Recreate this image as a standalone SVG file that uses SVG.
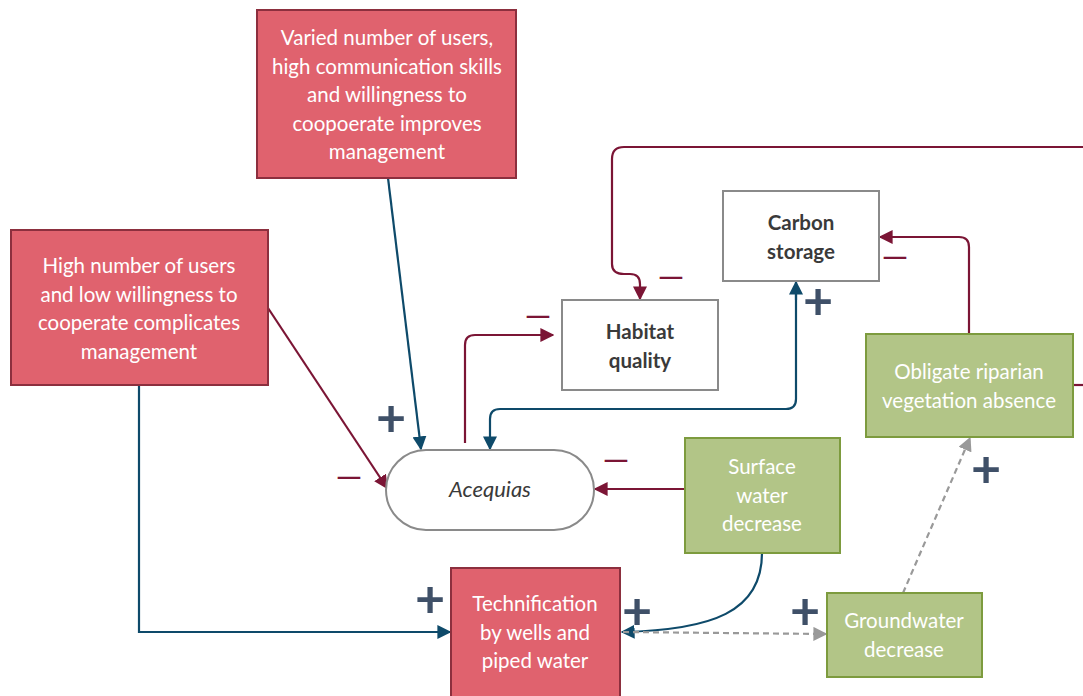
<svg xmlns="http://www.w3.org/2000/svg" width="1083" height="696" viewBox="0 0 1083 696">
<defs>
<style>
.red{fill:#e0626e;stroke:#8c2f3e;stroke-width:2}
.green{fill:#b2c587;stroke:#7d9b3e;stroke-width:2}
.white{fill:#fff;stroke:#8a8a8a;stroke-width:2}
.lt{font-family:Lato,"Liberation Sans",sans-serif;font-size:20.5px;fill:#fff;text-anchor:middle}
.dt{font-family:Lato,"Liberation Sans",sans-serif;font-size:20.5px;fill:#3a3a3a;text-anchor:middle;font-weight:bold}
.navy{fill:none;stroke:#0e4a6a;stroke-width:2.2}
.dred{fill:none;stroke:#7b1535;stroke-width:2.2}
.gray{fill:none;stroke:#999;stroke-width:2.2;stroke-dasharray:6,4}
.plus{font-family:Lato,"Liberation Sans",sans-serif;font-size:52px;fill:#3f5068;text-anchor:middle;font-weight:bold}
.minus{font-family:Lato,"Liberation Sans",sans-serif;font-size:34px;fill:#7b1535;text-anchor:middle}
</style>
<marker id="aN" viewBox="0 0 10 10" refX="9" refY="5" markerWidth="14" markerHeight="14" markerUnits="userSpaceOnUse" orient="auto"><path d="M0,0L10,5L0,10z" fill="#0e4a6a"/></marker>
<marker id="aR" viewBox="0 0 10 10" refX="9" refY="5" markerWidth="14" markerHeight="14" markerUnits="userSpaceOnUse" orient="auto"><path d="M0,0L10,5L0,10z" fill="#7b1535"/></marker>
<marker id="aG" viewBox="0 0 10 10" refX="9" refY="5" markerWidth="14" markerHeight="14" markerUnits="userSpaceOnUse" orient="auto"><path d="M0,0L10,5L0,10z" fill="#999"/></marker>
</defs>
<rect width="1083" height="696" fill="#fff"/>

<g id="connectors">
<path class="navy" d="M388,178 L421,449" marker-end="url(#aN)"/>
<path class="dred" d="M268,308 L387,488" marker-end="url(#aR)"/>
<path class="navy" d="M139,386 L139,632 L450,632" marker-end="url(#aN)"/>
<path class="dred" d="M465,443 L465,345 Q465,335 475,335 L553,335" marker-end="url(#aR)"/>
<path class="dred" d="M1083,147 L624,147 Q612,147 612,159 L612,264 Q612,274 624,274 L630,274 Q640,274 640,284 L640,299" marker-end="url(#aR)"/>
<path class="dred" d="M969,334 L969,247 Q969,237 959,237 L880,237" marker-end="url(#aR)"/>
<path class="dred" d="M1073,385 L1083,385"/>
<path class="navy" d="M796,290 L796,399 Q796,409 786,409 L500,409 Q490,409 490,419 L490,449" marker-end="url(#aN)"/>
<path class="navy" d="M796,300 L796,282" marker-end="url(#aN)"/>
<path class="dred" d="M685,489 L595,489" marker-end="url(#aR)"/>
<path class="navy" d="M762,553 C762,612 712,630 622,632" marker-end="url(#aN)"/>
<path class="gray" d="M623,632 L826,634" marker-end="url(#aG)"/>
<path class="gray" d="M903,593 L970,438" marker-end="url(#aG)"/>
</g>

<g id="labels">
<text class="plus" x="391" y="436">+</text>
<text class="minus" x="349" y="488">—</text>
<text class="minus" x="538" y="327">—</text>
<text class="minus" x="671" y="288">—</text>
<text class="plus" x="818" y="319">+</text>
<text class="minus" x="895" y="268">—</text>
<text class="minus" x="616" y="471">—</text>
<text class="plus" x="986" y="487">+</text>
<text class="plus" x="430" y="617">+</text>
<text class="plus" x="637" y="629">+</text>
<text class="plus" x="805" y="629">+</text>
</g>

<g id="n-varied">
<rect class="red" x="257" y="10" width="259" height="168"/>
<text class="lt"><tspan x="387" y="45">Varied number of users,</tspan><tspan x="387" y="73.5">high communication skills</tspan><tspan x="387" y="102">and willingness to</tspan><tspan x="387" y="130.5">coopoerate improves</tspan><tspan x="387" y="159">management</tspan></text>
</g>

<g id="n-high">
<rect class="red" x="11" y="230" width="257" height="155"/>
<text class="lt"><tspan x="139" y="273">High number of users</tspan><tspan x="139" y="301.5">and low willingness to</tspan><tspan x="139" y="330">cooperate complicates</tspan><tspan x="139" y="358.5">management</tspan></text>
</g>

<g id="n-carbon">
<rect class="white" x="723" y="191" width="156" height="90"/>
<text class="dt"><tspan x="801" y="230">Carbon</tspan><tspan x="801" y="258.5">storage</tspan></text>
</g>

<g id="n-habitat">
<rect class="white" x="562" y="300" width="156" height="90"/>
<text class="dt"><tspan x="640" y="339">Habitat</tspan><tspan x="640" y="367.5">quality</tspan></text>
</g>

<g id="n-acequias">
<rect class="white" x="386" y="450" width="208" height="80" rx="40"/>
<text class="dt" x="490" y="497" style="font-weight:normal;font-style:italic;font-size:22px">Acequias</text>
</g>

<g id="n-surface">
<rect class="green" x="685" y="438" width="155" height="115"/>
<text class="lt"><tspan x="762" y="474">Surface</tspan><tspan x="762" y="502.5">water</tspan><tspan x="762" y="531">decrease</tspan></text>
</g>

<g id="n-obligate">
<rect class="green" x="866" y="334" width="207" height="103"/>
<text class="lt"><tspan x="969" y="379">Obligate riparian</tspan><tspan x="969" y="407.5">vegetation absence</tspan></text>
</g>

<g id="n-ground">
<rect class="green" x="827" y="593" width="155" height="84"/>
<text class="lt"><tspan x="904" y="628">Groundwater</tspan><tspan x="904" y="656.5">decrease</tspan></text>
</g>

<g id="n-tech">
<rect class="red" x="451" y="568" width="169" height="140"/>
<text class="lt"><tspan x="535" y="611">Technification</tspan><tspan x="535" y="639.5">by wells and</tspan><tspan x="535" y="668">piped water</tspan></text>
</g>
</svg>
